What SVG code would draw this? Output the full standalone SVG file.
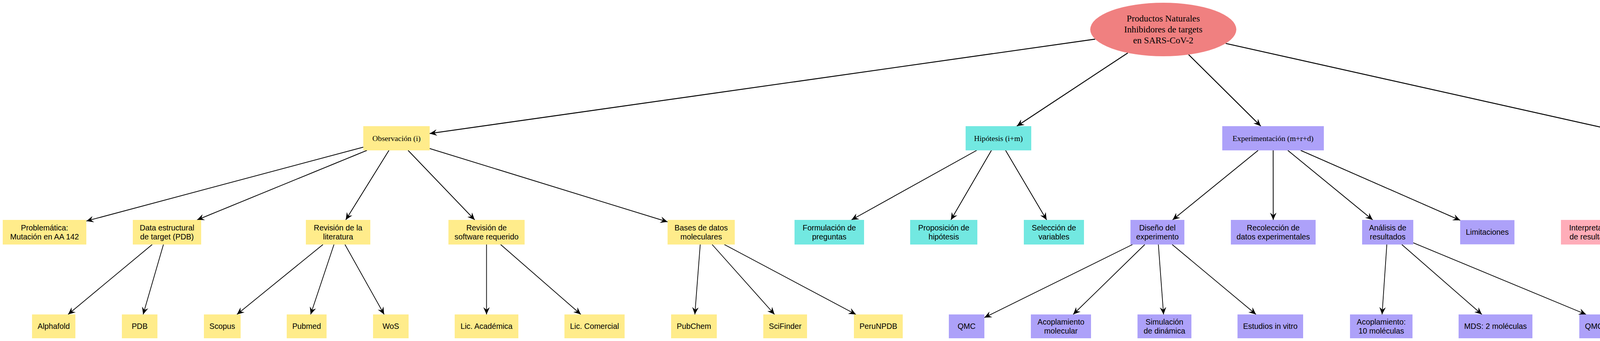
<svg xmlns="http://www.w3.org/2000/svg" width="4876" height="873" viewBox="0 0 4876 873">
<defs>
<marker id="vee" markerUnits="userSpaceOnUse" viewBox="-20 -10 22 20" refX="0" refY="0" markerWidth="22" markerHeight="20" orient="auto" overflow="visible">
<path d="M0,0 L-18.5,-8.2 L-12,0 L-18.5,8.2 Z" fill="#000"/>
</marker>
<style>
.e0{stroke:#000;stroke-width:2.4;fill:none;marker-end:url(#vee)}
.e1{stroke:#000;stroke-width:2;fill:none;marker-end:url(#vee)}
.e2{stroke:#000;stroke-width:1.8;fill:none;marker-end:url(#vee)}
.y{fill:#FFEC8B}
.c{fill:#72E8E1}
.p{fill:#ADA1F9}
.k{fill:#FFADB9}
.root{fill:#F08080}
.ts{font-family:"Liberation Serif","Times New Roman",serif;font-size:19.8px;fill:#000;text-anchor:middle}
.tr{font-family:"Liberation Serif","Times New Roman",serif;font-size:23.2px;fill:#000;text-anchor:middle}
.t{font-family:"Liberation Sans",Arial,sans-serif;font-size:19.8px;fill:#000;text-anchor:middle}
</style>
</defs>
<rect width="4876" height="873" fill="#fff"/>
<g id="edges">
<line class="e0" x1="2803.6" y1="100.2" x2="1100" y2="341.9"/>
<line class="e0" x1="2887.2" y1="135.4" x2="2603" y2="323"/>
<line class="e0" x1="3042.8" y1="139.7" x2="3227.7" y2="323"/>
<line class="e0" x1="3137.7" y1="111.1" x2="4143" y2="335.6"/>
<line class="e1" x1="930" y1="376.7" x2="221" y2="565.9"/>
<line class="e1" x1="939.3" y1="385" x2="504.5" y2="563"/>
<line class="e1" x1="995.7" y1="385" x2="885.1" y2="563"/>
<line class="e1" x1="1044.7" y1="385" x2="1215.3" y2="563"/>
<line class="e1" x1="1100" y1="380.2" x2="1709" y2="568"/>
<line class="e1" x1="2500.2" y1="385" x2="2179.7" y2="563"/>
<line class="e1" x1="2538" y1="385" x2="2434.3" y2="563"/>
<line class="e1" x1="2574.3" y1="385" x2="2679.4" y2="563"/>
<line class="e1" x1="3220.8" y1="385" x2="3001.8" y2="563"/>
<line class="e1" x1="3259.3" y1="385" x2="3259.5" y2="563"/>
<line class="e1" x1="3296.8" y1="385" x2="3514.1" y2="563"/>
<line class="e1" x1="3329.7" y1="385" x2="3738" y2="564"/>
<line class="e1" x1="4206.4" y1="385" x2="4096.9" y2="563"/>
<line class="e1" x1="4244.8" y1="385" x2="4355.9" y2="563"/>
<line class="e1" x1="4290.5" y1="385" x2="4663.9" y2="563"/>
<line class="e2" x1="389.6" y1="626" x2="174.2" y2="805"/>
<line class="e2" x1="418.4" y1="626" x2="366.4" y2="805"/>
<line class="e2" x1="826.8" y1="626" x2="606.5" y2="805"/>
<line class="e2" x1="855" y1="626" x2="795.2" y2="805"/>
<line class="e2" x1="883.1" y1="626" x2="983.4" y2="805"/>
<line class="e2" x1="1245.5" y1="626" x2="1245.5" y2="805"/>
<line class="e2" x1="1281.6" y1="626" x2="1487" y2="805"/>
<line class="e2" x1="1792.6" y1="626" x2="1778.8" y2="805"/>
<line class="e2" x1="1823.1" y1="626" x2="1982.8" y2="805"/>
<line class="e2" x1="1854.3" y1="626" x2="2191.1" y2="805"/>
<line class="e2" x1="2899.2" y1="626" x2="2520" y2="813.1"/>
<line class="e2" x1="2930.7" y1="626" x2="2747.3" y2="805"/>
<line class="e2" x1="2965.4" y1="626" x2="2978.7" y2="805"/>
<line class="e2" x1="3000.8" y1="626" x2="3215.4" y2="805"/>
<line class="e2" x1="3550.3" y1="626" x2="3538.1" y2="805"/>
<line class="e2" x1="3588.6" y1="626" x2="3793.6" y2="805"/>
<line class="e2" x1="3618" y1="621.6" x2="4060.4" y2="805"/>
</g>
<g id="root">
<ellipse class="root" cx="2978" cy="75.5" rx="187" ry="68.5"/>
<text class="tr"><tspan x="2978" y="55.2">Productos Naturales</tspan><tspan x="2978" y="83.2">Inhibidores de targets</tspan><tspan x="2978" y="111.2">en SARS-CoV-2</tspan></text>
</g>
<g id="observacion"><rect class="y" x="930" y="323" width="170" height="62"/><text class="ts" x="1015" y="360.6">Observación (i)</text></g>
<g id="hipotesis"><rect class="c" x="2472" y="323" width="168" height="62"/><text class="ts" x="2556" y="360.6">Hipótesis (i+m)</text></g>
<g id="experimentacion"><rect class="p" x="3129" y="323" width="260" height="62"/><text class="ts" x="3259" y="360.6">Experimentación (m+r+d)</text></g>
<g id="conclusion"><rect class="k" x="4143" y="323" width="165" height="62"/><text class="ts" x="4225.5" y="360.6">Conclusión (d)</text></g>

<g id="problematica"><rect class="y" x="7" y="563" width="214" height="63"/><text class="t"><tspan x="114" y="589.8">Problemática:</tspan><tspan x="114" y="613.1">Mutación en AA 142</tspan></text></g>
<g id="data"><rect class="y" x="340" y="563" width="175" height="63"/><text class="t"><tspan x="427.5" y="589.8">Data estructural</tspan><tspan x="427.5" y="613.1">de target (PDB)</tspan></text></g>
<g id="revlit"><rect class="y" x="783" y="563" width="165" height="63"/><text class="t"><tspan x="865.5" y="589.8">Revisión de la</tspan><tspan x="865.5" y="613.1">literatura</tspan></text></g>
<g id="revsoft"><rect class="y" x="1148" y="563" width="195" height="63"/><text class="t"><tspan x="1245.5" y="589.8">Revisión de</tspan><tspan x="1245.5" y="613.1">software requerido</tspan></text></g>
<g id="bases"><rect class="y" x="1709" y="563" width="172" height="63"/><text class="t"><tspan x="1795" y="589.8">Bases de datos</tspan><tspan x="1795" y="613.1">moleculares</tspan></text></g>
<g id="formulacion"><rect class="c" x="2034" y="563" width="178" height="63"/><text class="t"><tspan x="2123" y="589.8">Formulación de</tspan><tspan x="2123" y="613.1">preguntas</tspan></text></g>
<g id="proposicion"><rect class="c" x="2330" y="563" width="172" height="63"/><text class="t"><tspan x="2416" y="589.8">Proposición de</tspan><tspan x="2416" y="613.1">hipótesis</tspan></text></g>
<g id="seleccion"><rect class="c" x="2621" y="563" width="154" height="63"/><text class="t"><tspan x="2698" y="589.8">Selección de</tspan><tspan x="2698" y="613.1">variables</tspan></text></g>
<g id="diseno"><rect class="p" x="2894" y="563" width="138" height="63"/><text class="t"><tspan x="2963" y="589.8">Diseño del</tspan><tspan x="2963" y="613.1">experimento</tspan></text></g>
<g id="recoleccion"><rect class="p" x="3151" y="563" width="217" height="63"/><text class="t"><tspan x="3259.5" y="589.8">Recolección de</tspan><tspan x="3259.5" y="613.1">datos experimentales</tspan></text></g>
<g id="analisis"><rect class="p" x="3487" y="563" width="131" height="63"/><text class="t"><tspan x="3552.5" y="589.8">Análisis de</tspan><tspan x="3552.5" y="613.1">resultados</tspan></text></g>
<g id="limitaciones"><rect class="p" x="3738" y="563.5" width="139" height="62"/><text class="t" x="3807.5" y="601.4">Limitaciones</text></g>
<g id="interpretacion"><rect class="k" x="3996" y="563" width="163" height="63"/><text class="t"><tspan x="4077.5" y="589.8">Interpretación</tspan><tspan x="4077.5" y="613.1">de resultados</tspan></text></g>
<g id="comparacion"><rect class="k" x="4277" y="563" width="197" height="63"/><text class="t"><tspan x="4375.5" y="589.8">Comparación con</tspan><tspan x="4375.5" y="613.1">hipótesis</tspan></text></g>
<g id="propuestas"><rect class="k" x="4591" y="563" width="278" height="63"/><text class="t"><tspan x="4730" y="589.8">Propuestas</tspan><tspan x="4730" y="613.1">para futuras investigaciones</tspan></text></g>

<g id="alphafold"><rect class="y" x="82" y="805" width="111" height="61"/><text class="t" x="137.5" y="842.4">Alphafold</text></g>
<g id="pdb"><rect class="y" x="312" y="805" width="91" height="61"/><text class="t" x="357.5" y="842.4">PDB</text></g>
<g id="scopus"><rect class="y" x="522" y="805" width="94" height="61"/><text class="t" x="569" y="842.4">Scopus</text></g>
<g id="pubmed"><rect class="y" x="734" y="805" width="102" height="61"/><text class="t" x="785" y="842.4">Pubmed</text></g>
<g id="wos"><rect class="y" x="955" y="805" width="91" height="61"/><text class="t" x="1000.5" y="842.4">WoS</text></g>
<g id="licacad"><rect class="y" x="1164" y="805" width="163" height="61"/><text class="t" x="1245.5" y="842.4">Lic. Académica</text></g>
<g id="liccom"><rect class="y" x="1445" y="805" width="154" height="61"/><text class="t" x="1522" y="842.4">Lic. Comercial</text></g>
<g id="pubchem"><rect class="y" x="1718" y="805" width="117" height="61"/><text class="t" x="1776.5" y="842.4">PubChem</text></g>
<g id="scifinder"><rect class="y" x="1954" y="805" width="112" height="61"/><text class="t" x="2010" y="842.4">SciFinder</text></g>
<g id="perunpdb"><rect class="y" x="2186" y="805" width="125" height="61"/><text class="t" x="2248.5" y="842.4">PeruNPDB</text></g>
<g id="qmc"><rect class="p" x="2429" y="805" width="91" height="61"/><text class="t" x="2474.5" y="842.4">QMC</text></g>
<g id="acopmol"><rect class="p" x="2639" y="805" width="154" height="61"/><text class="t"><tspan x="2716" y="830.8">Acoplamiento</tspan><tspan x="2716" y="854.1">molecular</tspan></text></g>
<g id="simulacion"><rect class="p" x="2912" y="805" width="138" height="61"/><text class="t"><tspan x="2981" y="830.8">Simulación</tspan><tspan x="2981" y="854.1">de dinámica</tspan></text></g>
<g id="invitro"><rect class="p" x="3168" y="805" width="168" height="61"/><text class="t" x="3252" y="842.4">Estudios in vitro</text></g>
<g id="acop10"><rect class="p" x="3456" y="805" width="160" height="61"/><text class="t"><tspan x="3536" y="830.8">Acoplamiento:</tspan><tspan x="3536" y="854.1">10 moléculas</tspan></text></g>
<g id="mds"><rect class="p" x="3734" y="805" width="189" height="61"/><text class="t" x="3828.5" y="842.4">MDS: 2 moléculas</text></g>
<g id="qmc1"><rect class="p" x="4043" y="805" width="182" height="61"/><text class="t" x="4134" y="842.4">QMC: 1 molécula</text></g>
</svg>
